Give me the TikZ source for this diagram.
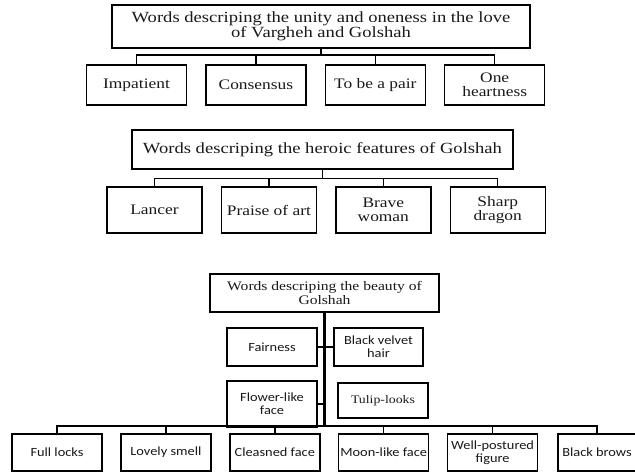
\documentclass[tikz,border=0pt]{standalone}
\usepackage{fontspec}
\setmainfont{Liberation Serif}[FakeStretch=1.2]
\newfontfamily\sansbox{Carlito}[FakeStretch=1.15]
\usetikzlibrary{positioning}

\begin{document}
\begin{tikzpicture}[x=1pt, y=-1pt, line width=1.4pt, node distance=18pt,
    box/.style={draw, fill=white, inner sep=1.5pt, align=center, text=black!90},
    head/.style={box, font={\fontsize{15.5}{14}\selectfont}},
    item/.style={box, font={\fontsize{14.5}{13.5}\selectfont}},
    sitem/.style={box, font={\sansbox\fontsize{12.5}{13}\selectfont}, minimum width=90pt, minimum height=38pt}]
  \useasboundingbox (0,0) rectangle (635,473);
  % unity and oneness
  \node[head, minimum width=418pt, minimum height=43pt] (u0) at (321,26.5) {Words descriping the unity and oneness in the love\\ of Vargheh and Golshah};
  \node[item, minimum width=100pt, minimum height=40pt] (u1) at (136.5,85) {Impatient};
  \node[item, minimum width=100pt, minimum height=40pt, right=of u1] (u2) {Consensus};
  \node[item, minimum width=100pt, minimum height=40pt, right=of u2] (u3) {To be a pair};
  \node[item, minimum width=100pt, minimum height=40pt, right=of u3] (u4) {One\\ heartness};
  \coordinate[below=6.5pt of u0.south] (ubar);
  \draw (u0.south) -- (ubar);
  \foreach \n in {1,...,4} \draw (u\n.north) |- (ubar);
  % heroic features
  \node[head, minimum width=381pt, minimum height=39pt] (h0) at (322.5,149.5) {Words descriping the heroic features of Golshah};
  \node[item, minimum width=95pt, minimum height=46pt] (h1) at (154.5,210) {Lancer};
  \node[item, minimum width=95pt, minimum height=46pt, right=of h1] (h2) {Praise of art};
  \node[item, minimum width=95pt, minimum height=46pt, right=of h2] (h3) {Brave\\ woman};
  \node[item, minimum width=95pt, minimum height=46pt, right=of h3] (h4) {Sharp\\ dragon};
  \coordinate[below=9pt of h0.south] (hbar);
  \draw (h0.south) -- (hbar);
  \foreach \n in {1,...,4} \draw (h\n.north) |- (hbar);
  % beauty
  \node[box, font={\fontsize{13}{14}\selectfont}, minimum width=229pt, minimum height=38pt] (b0) at (324.5,293) {Words descriping the beauty of\\ Golshah};
  \node[sitem] (f1) at (272,347) {Fairness};
  \node[sitem, minimum width=89pt] (f2) at (378.5,347) {Black velvet\\ hair};
  \node[sitem, minimum height=46pt] (f3) at (272,404) {Flower-like\\ face};
  \node[box, font={\fontsize{11.5}{13}\selectfont}, minimum width=90pt, minimum height=35pt] (f4) at (383,400.5) {Tulip-looks};
  \node[sitem, minimum height=37pt] (c1) at (57,452.5) {Full locks};
  \node[sitem, minimum height=37pt, right=17.5pt of c1] (c2) {Lovely smell};
  \node[sitem, minimum height=37pt, right=17.5pt of c2] (c3) {Cleasned face};
  \node[sitem, minimum height=37pt, right=17.5pt of c3] (c4) {Moon-like face};
  \node[sitem, minimum height=37pt, right=17.5pt of c4] (c5) {Well-postured\\ figure};
  \node[sitem, minimum height=37pt, minimum width=78pt, right=19pt of c5] (c6) {Black brows};
  \coordinate (bbar) at (b0.south |- 0,426);
  \draw[line width=2.2pt] (b0.south) -- (bbar);
  \foreach \n in {1,...,6} \draw (c\n.north) |- (bbar);
  \draw (f1.east) -- (f2.west);
  \draw (f3.east) -- (f3.east -| bbar);
\end{tikzpicture}
\end{document}
